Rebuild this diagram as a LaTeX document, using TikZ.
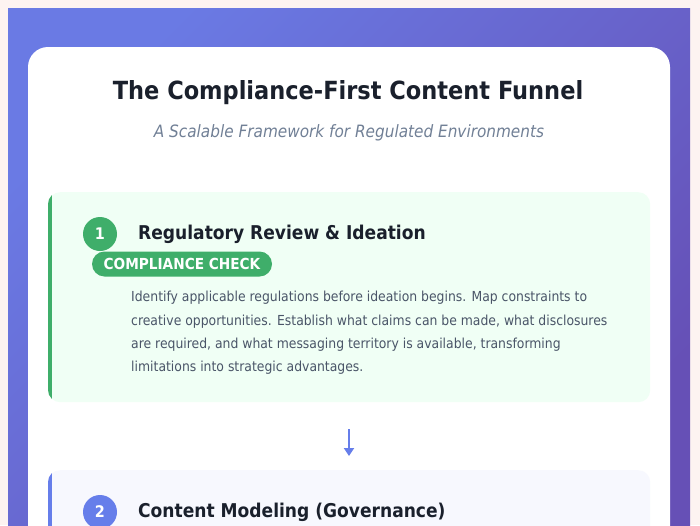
\documentclass[tikz,border=0pt]{standalone}
\usepackage{fontspec}
\setmainfont{DejaVu Sans Condensed}
\definecolor{pagebg}{HTML}{FDF3F1}
\definecolor{purpA}{HTML}{6A7AE4}
\definecolor{purpB}{HTML}{6650B6}
\definecolor{titlec}{HTML}{1A202C}
\definecolor{subc}{HTML}{718096}
\definecolor{bodyc}{HTML}{4A5568}
\definecolor{greenc}{HTML}{3FAE6A}
\definecolor{greenbg}{HTML}{F0FFF5}
\definecolor{bluec}{HTML}{667EEA}
\definecolor{bluebg}{HTML}{F7F8FE}
\usetikzlibrary{arrows.meta}
\tikzset{
  stepnum/.style={circle, minimum size=34pt, inner sep=0pt, text=white, font=\bfseries\fontsize{16}{16}\selectfont},
  steptitle/.style={anchor=west, inner sep=0pt, text=titlec, font=\bfseries\fontsize{19}{19}\selectfont},
  badge/.style={rounded corners=12.5pt, fill=greenc, text=white, inner sep=0pt, minimum height=25pt, minimum width=180pt, font=\bfseries\fontsize{15.2}{15.2}\selectfont},
  bodytext/.style={anchor=north west, inner sep=0pt, text=bodyc, align=left, font=\fontsize{13.8}{23.4}\selectfont},
  flowarrow/.style={draw=bluec, line width=2pt, -{Triangle[length=8pt,width=10pt]}}
}
\begin{document}
\begin{tikzpicture}[x=1pt,y=-1pt]
\useasboundingbox (0,0) rectangle (700,525);
\fill[pagebg] (0,0) rectangle (700,525);
\shade[shading=axis, left color=purpA, right color=purpB, shading angle=45] (8,8) rectangle (690,530);
\fill[white, rounded corners=20pt] (28,47) rectangle (670,560);
% title
\node[inner sep=0pt, text=titlec, font=\bfseries\fontsize{25}{25}\selectfont] (title) at (348,93) {The Compliance-First Content Funnel};
\node[inner sep=0pt, text=subc, font=\itshape\fontsize{17}{17}\selectfont] (subtitle) at (349,133) {A Scalable Framework for Regulated Environments};
% card 1
\node[fill=greenbg, rounded corners=12pt, minimum width=602pt, minimum height=210pt, anchor=north west, inner sep=0pt] (card1) at (48,192) {};
\begin{scope}
\clip[rounded corners=12pt] (48,192) rectangle (650,402);
\fill[greenc] (48,192) rectangle (52,402);
\end{scope}
\node[stepnum, fill=greenc] (n1) at (100,234) {1};
\node[steptitle] (t1) at (138,234) {Regulatory Review \& Ideation};
\node[badge] (b1) at (182,264) {COMPLIANCE CHECK};
\node[bodytext] (d1) at (131,291) {Identify applicable regulations before ideation begins. Map constraints to\\creative opportunities. Establish what claims can be made, what disclosures\\are required, and what messaging territory is available, transforming\\limitations into strategic advantages.};
% arrow
\coordinate (a1) at (349,429);
\coordinate (a2) at (349,456);
\draw[flowarrow] (a1) -- (a2);
% card 2
\node[fill=bluebg, rounded corners=12pt, minimum width=602pt, minimum height=120pt, anchor=north west, inner sep=0pt] (card2) at (48,470) {};
\begin{scope}
\clip[rounded corners=12pt] (48,470) rectangle (650,590);
\fill[bluec] (48,470) rectangle (52,590);
\end{scope}
\node[stepnum, fill=bluec] (n2) at (100,512) {2};
\node[steptitle] (t2) at (138,512) {Content Modeling (Governance)};
\end{tikzpicture}
\end{document}
